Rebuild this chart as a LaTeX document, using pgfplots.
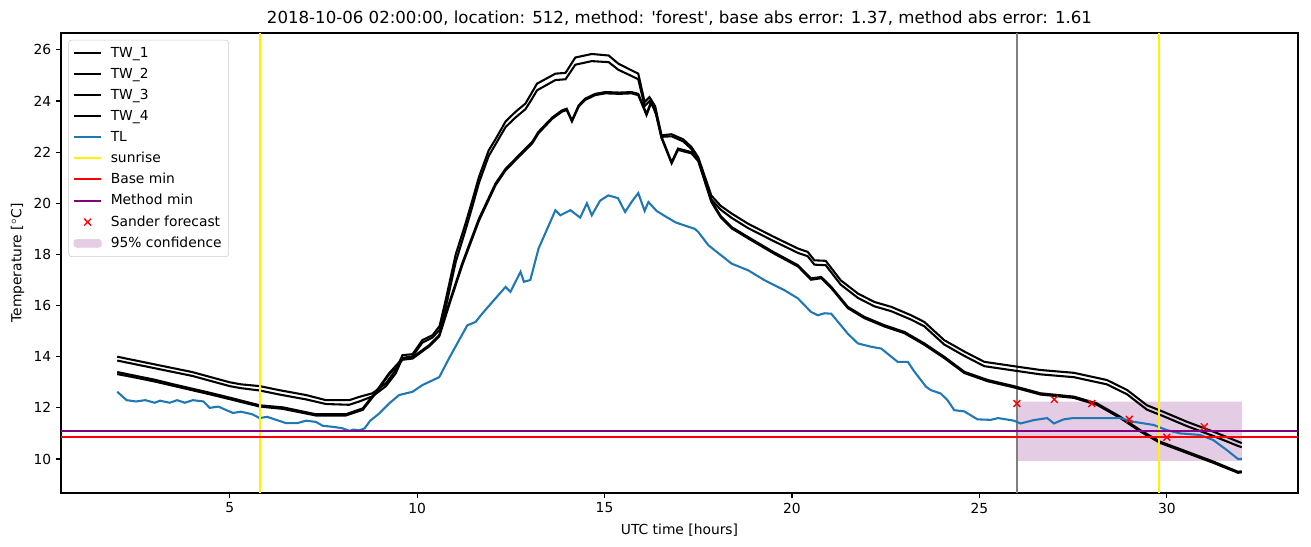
\documentclass[border=0pt]{standalone}
\usepackage{pgfplots}
\pgfplotsset{compat=1.18}
\usepackage{fontspec}
\setmainfont{DejaVu Sans}
\definecolor{mplblue}{HTML}{1F77B4}
\definecolor{mplpurple}{HTML}{800080}
\definecolor{conf}{RGB}{229,204,229}
\definecolor{legframe}{RGB}{204,204,204}
\begin{document}
\begin{tikzpicture}
\begin{axis}[
  name=ax,
  scale only axis,
  width=12.37in, height=4.6in,
  xmin=0.5, xmax=33.5, ymin=8.67, ymax=26.66,
  xtick={5,10,15,20,25,30},
  ytick={10,12,14,16,18,20,22,24,26},
  tick align=outside,
  major tick length=3.5pt,
  tick style={black, line width=0.8pt},
  axis line style={line width=0.8pt},
  xtick pos=bottom, ytick pos=left,
  /pgf/number format/assume math mode=true,
  tick label style={font=\fontsize{10}{12}\selectfont},
  label style={font=\fontsize{10}{12}\selectfont},
  xlabel={UTC time [hours]},
  ylabel={Temperature [$^\circ$C]},
  xlabel style={yshift=-1pt},
  ylabel style={yshift=0pt},
  title={2018-10-06 02:00:00, location: 512, method: \textquotesingle forest\textquotesingle, base abs error: 1.37, method abs error: 1.61},
  title style={font=\fontsize{12}{14}\selectfont, yshift=-4pt},
  legend style={at={(0.006,0.985)}, anchor=north west, draw=legframe, rounded corners=2pt,
    font=\fontsize{10}{12}\selectfont, row sep=2.3pt, inner sep=3pt,
    /tikz/every odd column/.append style={column sep=4pt}},
  legend cell align=left,
  legend image code/.code={\draw[mark repeat=2,mark phase=2,#1] plot coordinates {(0cm,0cm) (0.35cm,0cm) (0.7cm,0cm)};},
]
% confidence band (behind)
\addplot[fill=conf, draw=none, forget plot] coordinates {(26,9.93) (32,9.93) (32,12.24) (26,12.24) (26,9.93)};
% gray vertical line
\addplot[color=gray, line width=1.5pt, forget plot] coordinates {(26,8.67) (26,26.66)};

\addplot[black, line width=1.5pt] coordinates {
(2.0,14.0) (2.5,13.85) (3.0,13.7) (3.5,13.55) (4.0,13.4) (4.5,13.2) (5.0,13.0) (5.3,12.92) (5.8,12.85) (6.33,12.69) (7.04,12.5) (7.57,12.3) (8.19,12.3) (8.46,12.43) (8.81,12.57) (9.17,12.96) (9.43,13.48) (9.61,14.06) (9.88,14.1) (10.14,14.65) (10.41,14.84) (10.6,15.2) (10.76,16.2) (11.03,18.0) (11.29,19.2) (11.47,20.1) (11.65,21.03) (11.91,22.07) (12.09,22.5) (12.36,23.2) (12.62,23.57) (12.89,23.9) (13.05,24.3) (13.2,24.68) (13.69,25.07) (13.96,25.1) (14.22,25.7) (14.66,25.84) (15.11,25.78) (15.37,25.46) (15.72,25.2) (15.9,25.07) (16.07,23.96) (16.2,24.15) (16.35,23.8) (16.52,22.66) (16.79,22.7) (17.1,22.5) (17.32,22.2) (17.5,21.8) (17.85,20.3) (18.1,19.9) (18.39,19.6) (18.83,19.2) (19.5,18.7) (20.16,18.23) (20.42,18.1) (20.6,17.77) (20.9,17.75) (21.3,16.99) (21.76,16.47) (22.2,16.14) (22.65,15.95) (23.18,15.62) (23.53,15.36) (24.06,14.65) (24.6,14.2) (25.13,13.8) (25.92,13.63) (26.63,13.48) (27.52,13.37) (28.4,13.09) (28.94,12.7) (29.47,12.1) (29.9,11.85) (30.53,11.46) (31.24,11.07) (31.9,10.68) (32.0,10.62)
};
\addlegendentry{TW\_1}
\addplot[black, line width=1.5pt] coordinates {
(2.0,13.85) (2.5,13.7) (3.0,13.55) (3.5,13.4) (4.0,13.25) (4.5,13.05) (5.0,12.85) (5.3,12.77) (5.8,12.68) (6.33,12.52) (7.04,12.33) (7.57,12.15) (8.19,12.12) (8.46,12.25) (8.81,12.45) (9.17,12.85) (9.43,13.35) (9.61,13.95) (9.88,14.02) (10.14,14.55) (10.41,14.75) (10.6,15.05) (10.76,15.9) (11.03,17.7) (11.29,18.95) (11.47,19.85) (11.65,20.8) (11.91,21.85) (12.09,22.3) (12.36,22.98) (12.62,23.35) (12.89,23.68) (13.05,24.05) (13.2,24.42) (13.69,24.82) (13.96,24.85) (14.22,25.42) (14.66,25.56) (15.11,25.52) (15.37,25.22) (15.72,24.98) (15.9,24.85) (16.07,23.8) (16.2,24.0) (16.35,23.65) (16.52,22.6) (16.79,22.62) (17.1,22.42) (17.32,22.12) (17.5,21.7) (17.85,20.15) (18.1,19.75) (18.39,19.43) (18.83,19.03) (19.5,18.53) (20.16,18.06) (20.42,17.93) (20.6,17.6) (20.9,17.58) (21.3,16.82) (21.76,16.3) (22.2,15.97) (22.65,15.78) (23.18,15.45) (23.53,15.19) (24.06,14.48) (24.6,14.03) (25.13,13.63) (25.92,13.46) (26.63,13.31) (27.52,13.2) (28.4,12.92) (28.94,12.53) (29.47,11.93) (29.9,11.68) (30.53,11.29) (31.24,10.9) (31.9,10.51) (32.0,10.46)
};
\addlegendentry{TW\_2}
\addplot[black, line width=1.5pt] coordinates {
(2.0,13.4) (2.5,13.25) (3.0,13.1) (3.5,12.92) (4.0,12.75) (4.5,12.58) (5.0,12.4) (5.8,12.1) (6.42,12.02) (7.3,11.75) (8.1,11.75) (8.55,11.98) (8.9,12.63) (9.25,13.35) (9.61,13.93) (9.88,13.98) (10.32,14.45) (10.59,14.84) (10.85,16.08) (11.2,17.64) (11.65,19.4) (12.09,20.77) (12.36,21.35) (12.71,21.87) (13.07,22.4) (13.24,22.8) (13.6,23.35) (13.86,23.63) (13.99,23.7) (14.13,23.24) (14.31,23.83) (14.48,24.09) (14.75,24.28) (15.02,24.35) (15.4,24.33) (15.72,24.35) (15.9,24.28) (16.12,23.5) (16.25,24.0) (16.38,23.5) (16.52,22.6) (16.79,21.61) (16.96,22.14) (17.32,22.0) (17.5,21.7) (17.85,20.1) (18.1,19.5) (18.39,19.07) (18.83,18.68) (19.5,18.1) (20.16,17.58) (20.51,17.06) (20.78,17.12) (21.05,16.73) (21.49,15.95) (21.93,15.56) (22.47,15.23) (23.0,14.97) (23.53,14.52) (24.06,14.0) (24.6,13.41) (25.22,13.09) (25.92,12.85) (26.63,12.57) (27.52,12.44) (28.14,12.17) (28.76,11.65) (29.29,11.13) (29.82,10.68) (30.53,10.29) (31.24,9.9) (31.9,9.5) (32.0,9.52)
};
\addlegendentry{TW\_3}
\addplot[black, line width=1.5pt] coordinates {
(2.0,13.32) (2.5,13.18) (3.0,13.03) (3.5,12.86) (4.0,12.69) (4.5,12.52) (5.0,12.34) (5.8,12.05) (6.42,11.96) (7.3,11.7) (8.1,11.7) (8.55,11.92) (8.9,12.58) (9.25,13.3) (9.61,13.88) (9.88,13.93) (10.32,14.4) (10.59,14.79) (10.85,16.0) (11.2,17.56) (11.65,19.32) (12.09,20.7) (12.36,21.29) (12.71,21.81) (13.07,22.34) (13.24,22.74) (13.6,23.3) (13.86,23.58) (13.99,23.65) (14.13,23.2) (14.31,23.78) (14.48,24.04) (14.75,24.23) (15.02,24.3) (15.4,24.28) (15.72,24.3) (15.9,24.23) (16.12,23.45) (16.25,23.95) (16.38,23.45) (16.52,22.55) (16.79,21.56) (16.96,22.09) (17.32,21.95) (17.5,21.65) (17.85,20.05) (18.1,19.45) (18.39,19.02) (18.83,18.63) (19.5,18.05) (20.16,17.53) (20.51,17.01) (20.78,17.07) (21.05,16.68) (21.49,15.9) (21.93,15.51) (22.47,15.18) (23.0,14.92) (23.53,14.47) (24.06,13.95) (24.6,13.36) (25.22,13.04) (25.92,12.8) (26.63,12.52) (27.52,12.39) (28.14,12.12) (28.76,11.6) (29.29,11.08) (29.82,10.63) (30.53,10.24) (31.24,9.85) (31.9,9.46) (32.0,9.48)
};
\addlegendentry{TW\_4}
\addplot[mplblue, line width=1.5pt] coordinates {
(2.0,12.63) (2.25,12.3) (2.5,12.25) (2.75,12.3) (3.0,12.2) (3.14,12.28) (3.4,12.2) (3.6,12.3) (3.8,12.2) (4.02,12.3) (4.3,12.25) (4.47,12.0) (4.7,12.05) (4.85,11.95) (5.09,11.8) (5.3,11.85) (5.6,11.75) (5.8,11.6) (6.0,11.65) (6.2,11.55) (6.51,11.4) (6.8,11.4) (7.04,11.5) (7.3,11.45) (7.48,11.3) (7.8,11.25) (8.01,11.2) (8.2,11.1) (8.3,11.15) (8.46,11.12) (8.6,11.2) (8.75,11.5) (8.99,11.78) (9.26,12.18) (9.52,12.5) (9.88,12.63) (10.14,12.89) (10.59,13.2) (10.85,13.93) (11.12,14.65) (11.34,15.23) (11.56,15.36) (11.74,15.69) (12.09,16.28) (12.36,16.73) (12.49,16.54) (12.76,17.32) (12.85,16.93) (13.02,17.0) (13.24,18.23) (13.69,19.73) (13.82,19.53) (14.09,19.73) (14.35,19.44) (14.53,20.0) (14.66,19.53) (14.88,20.1) (15.1,20.31) (15.36,20.2) (15.55,19.66) (15.72,20.05) (15.9,20.4) (16.07,19.7) (16.17,20.05) (16.39,19.7) (16.61,19.5) (16.9,19.25) (17.2,19.1) (17.41,19.0) (17.5,18.88) (17.77,18.36) (18.39,17.64) (18.83,17.38) (19.27,16.99) (19.8,16.6) (20.16,16.28) (20.51,15.75) (20.69,15.62) (20.87,15.7) (21.05,15.68) (21.49,14.9) (21.76,14.52) (22.11,14.39) (22.38,14.32) (22.82,13.8) (23.09,13.8) (23.27,13.41) (23.58,12.82) (23.71,12.69) (23.97,12.56) (24.15,12.3) (24.33,11.91) (24.6,11.86) (24.95,11.55) (25.3,11.53) (25.5,11.6) (25.92,11.5) (26.1,11.39) (26.45,11.52) (26.81,11.6) (26.99,11.39) (27.25,11.55) (27.5,11.6) (28.14,11.6) (28.76,11.6) (29.1,11.46) (29.65,11.33) (30.0,11.13) (30.36,11.0) (30.89,10.94) (31.24,10.74) (31.6,10.35) (31.9,10.0) (32.0,10.0)
};
\addlegendentry{TL}
\addplot[yellow, line width=1.5pt] coordinates {(5.8,8.67) (5.8,26.66)};
\addlegendentry{sunrise}
\addplot[yellow, line width=1.5pt, forget plot] coordinates {(29.8,8.67) (29.8,26.66)};
\addplot[red, line width=1.5pt] coordinates {(0.5,10.87) (33.5,10.87)};
\addlegendentry{Base min}
\addplot[mplpurple, line width=1.5pt] coordinates {(0.5,11.1) (33.5,11.1)};
\addlegendentry{Method min}
\addplot[red, only marks, mark=x, mark size=3.5pt, mark options={line width=1pt}] coordinates {(26,12.17) (27,12.33) (28,12.17) (29,11.55) (30,10.85) (31,11.26)};
\addlegendentry{Sander forecast}
\addlegendimage{legend image code/.code={\fill[conf] (0cm,-0.1cm) rectangle (0.7cm,0.1cm);}}
\addlegendentry{95\% confidence}
\end{axis}
\path[use as bounding box] ([xshift=-0.61in,yshift=-0.54in]ax.south west) rectangle ([xshift=0.13in,yshift=0.33in]ax.north east);
\end{tikzpicture}
\end{document}
